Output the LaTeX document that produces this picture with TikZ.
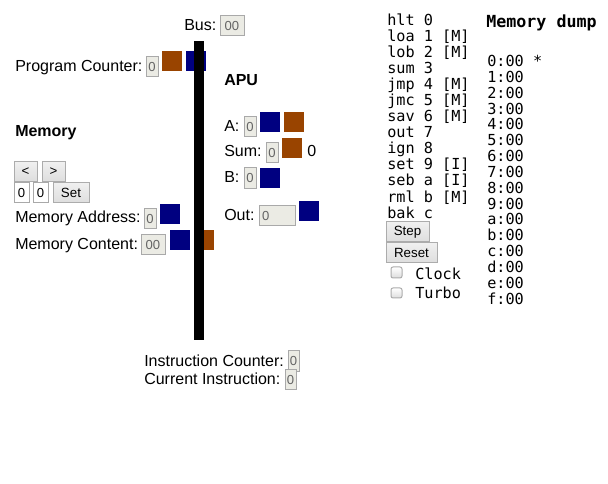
\documentclass[tikz,border=0pt]{standalone}
\usepackage{fontspec}
\setmainfont{Liberation Sans}
\setmonofont{DejaVu Sans Mono}
\usetikzlibrary{fit}
\definecolor{navy}{RGB}{0,0,128}
\definecolor{rust}{RGB}{153,68,0}
\definecolor{fieldbg}{RGB}{235,235,228}
\definecolor{fieldbd}{RGB}{169,169,169}
\definecolor{fieldtx}{RGB}{100,100,100}
\definecolor{btnbd}{RGB}{172,172,172}
\definecolor{btntop}{RGB}{240,240,240}
\definecolor{btnbot}{RGB}{221,221,221}
\tikzset{
 lbl/.style={anchor=base west, inner sep=0pt, font=\fontsize{12pt}{14pt}\selectfont},
 hd/.style={anchor=base west, inner sep=0pt, font=\fontsize{12pt}{14pt}\selectfont\bfseries},
 mono/.style={anchor=base west, inner sep=0pt, font=\fontsize{11.4pt}{13pt}\selectfont\ttfamily},
 monohd/.style={anchor=base west, inner sep=0pt, font=\fontsize{12.5pt}{14pt}\selectfont\ttfamily\bfseries},
 field/.style={fill=fieldbg, draw=fieldbd, line width=0.75pt, inner sep=0pt},
 wfield/.style={fill=white, draw=fieldbd, line width=0.75pt, inner sep=0pt},
 ftxt/.style={inner sep=0pt, font=\fontsize{9.8pt}{11pt}\selectfont, text=fieldtx},
 wtxt/.style={inner sep=0pt, font=\fontsize{9.8pt}{11pt}\selectfont, text=black},
 btn/.style={top color=btntop, bottom color=btnbot, draw=btnbd, line width=0.75pt, inner sep=0pt},
 btxt/.style={inner sep=0pt, font=\fontsize{10pt}{12pt}\selectfont, text=black},
 chk/.style={top color=white, bottom color=btnbot, draw=btnbd, line width=0.75pt,
   rounded corners=1.5pt, inner sep=0pt},
 sqb/.style={fill=navy, inner sep=0pt},
 sqr/.style={fill=rust, inner sep=0pt},
}
% box with centred text: style, text style, name, corner, corner, text
\newcommand\uiBox[6]{%
  \node[#1, fit={#4 #5}] (#3) {};
  \node[#2] (#3t) at (#3.center) {#6};}
\begin{document}
\begin{tikzpicture}[x=0.75pt,y=-0.75pt]
\useasboundingbox (0,0) rectangle (608,484);
\fill[white] (0,0) rectangle (608,484);

% ---- Bus
\node[lbl] (buslbl) at (184,31) {Bus:};
\uiBox{field}{ftxt}{busv}{(220,16)}{(244,36)}{00}

% ---- Program counter
\node[lbl] (pclbl) at (15,72) {Program Counter:};
\uiBox{field}{ftxt}{pcv}{(146,57)}{(158,77)}{0}
\node[sqr, fit={(162,51)(182,71)}] (pcr) {};
\node[sqb, fit={(186,51)(206,71)}] (pcb) {};

% ---- Memory
\node[hd] (memhd) at (15,137) {Memory};
\uiBox{btn}{btxt}{prevb}{(14,162)}{(37,182)}{<}
\uiBox{btn}{btxt}{nextb}{(42,162)}{(65,182)}{>}
\uiBox{wfield}{wtxt}{in1}{(14,183)}{(29,203)}{0}
\uiBox{wfield}{wtxt}{in2}{(33,183)}{(48,203)}{0}
\uiBox{btn}{btxt}{setb}{(53,183)}{(89,203)}{Set}
\node[lbl] (malbl) at (15,223) {Memory Address:};
\uiBox{field}{ftxt}{mav}{(144,209)}{(156,229)}{0}
\node[sqb, fit={(160,204)(180,224)}] (mab) {};
\node[lbl] (mclbl) at (15,250) {Memory Content:};
\uiBox{field}{ftxt}{mcv}{(141,235)}{(165,255)}{00}
\node[sqb, fit={(170,230)(190,250)}] (mcb) {};
\node[sqr, fit={(194,230)(214,250)}] (mcr) {};

% ---- APU
\node[hd] (apuhd) at (224,86) {APU};
\node[lbl] (alb) at (224,132) {A:};
\uiBox{field}{ftxt}{av}{(244,117)}{(256,137)}{0}
\node[sqb, fit={(260,112)(280,132)}] (ab) {};
\node[sqr, fit={(284,112)(304,132)}] (ar) {};
\node[lbl] (sumlbl) at (224,157) {Sum:};
\uiBox{field}{ftxt}{sumv}{(266,143)}{(278,163)}{0}
\node[sqr, fit={(282,138)(302,158)}] (sumr) {};
\node[lbl] (sumc) at (307,157) {0};
\node[lbl] (blb) at (224,183) {B:};
\uiBox{field}{ftxt}{bv}{(244,168)}{(256,189)}{0}
\node[sqb, fit={(260,168)(280,188)}] (bb) {};
\node[lbl] (outlbl) at (224,221) {Out:};
\node[field, fit={(259,206)(295,226)}] (outv) {};
\node[ftxt, anchor=west] (outt) at ([xshift=2.5pt]outv.west) {0};
\node[sqb, fit={(299,201)(319,221)}] (outb) {};

% ---- Bus bar (on top)
\node[fill=black, inner sep=0pt, fit={(194,41)(204,340)}] (bus) {};

% ---- Instruction
\node[lbl] (iclbl) at (144,367) {Instruction Counter:};
\uiBox{field}{ftxt}{icv}{(288,351)}{(299,372)}{0}
\node[lbl] (cilbl) at (144,385) {Current Instruction:};
\uiBox{field}{ftxt}{civ}{(285,370)}{(296,390)}{0}

% ---- Instruction list
\foreach \t [count=\i from 0] in {hlt 0,loa 1 [M],lob 2 [M],sum 3,jmp 4 [M],jmc 5 [M],sav 6 [M],out 7,ign 8,set 9 [I],seb a [I],rml b [M],bak c}{
  \node[mono] (op\i) at (387,{25.5+16.05*\i}) {\t};
}
\uiBox{btn}{btxt}{stepb}{(386,222)}{(429,242)}{Step}
\uiBox{btn}{btxt}{resetb}{(386,243)}{(437,263)}{Reset}
\node[chk, fit={(391,267)(402,278)}] (clkc) {};
\node[mono] (clkl) at (415,279.5) {Clock};
\node[chk, fit={(391,288)(402,298)}] (turc) {};
\node[mono] (turl) at (415,298.5) {Turbo};

% ---- Memory dump
\node[monohd] (dumphd) at (486,28) {Memory dump};
\node[mono] (d0) at (487,66.5) {0:00 *};
\foreach \t [count=\i from 1] in {1,2,3,4,5,6,7,8,9,a,b,c,d,e,f}{
  \node[mono] (d\i) at (487,{66.5+15.85*\i}) {\t:00};
}
\end{tikzpicture}
\end{document}
